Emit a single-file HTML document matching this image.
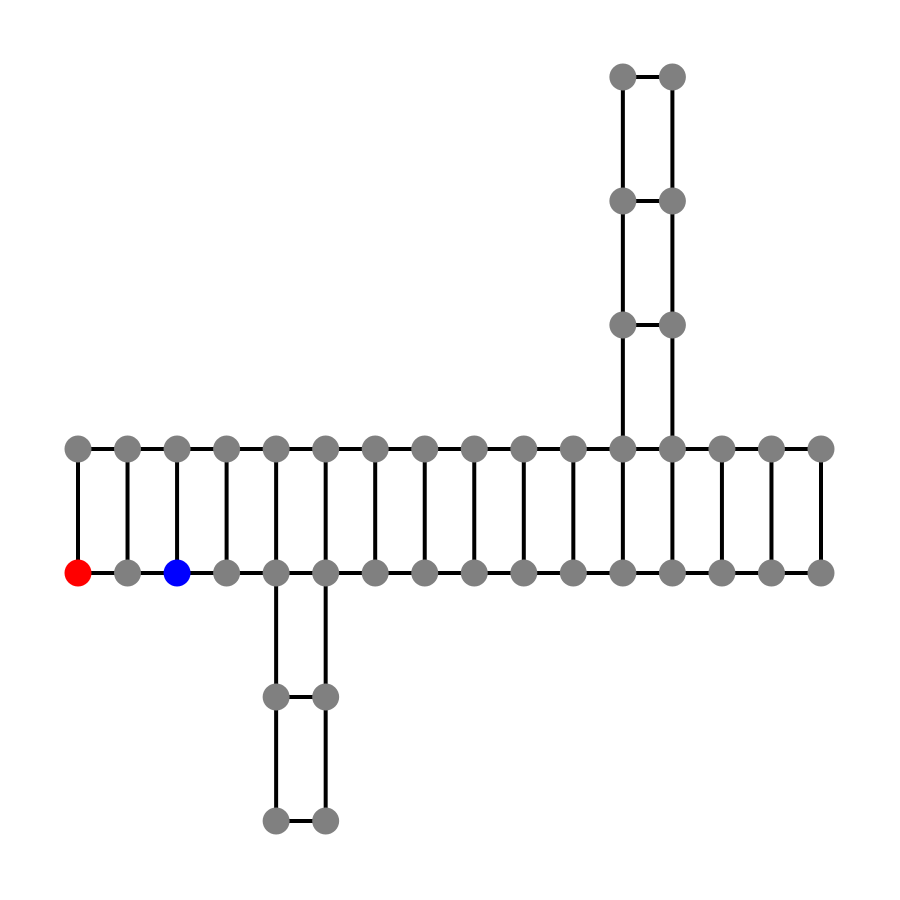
<!DOCTYPE html>
<html>
<head>
<meta charset="utf-8">
<style>
  html, body { margin:0; padding:0; background:#fff; }
  svg { display:block; }
</style>
</head>
<body>
<svg id="chart" width="900" height="900" viewBox="0 0 900 900">
  <g id="edges"></g>
  <g id="nodes"></g>
</svg>
<script>
// grid coordinates of nodes: column index and row index
const mainCols = [0,1,2,3,4,5,6,7,8,9,10,11,12,13,14,15];
const mainRows = [0,1];
const upperCols = [11,12];
const upperRows = [-1,-2,-3];
const lowerCols = [4,5];
const lowerRows = [2,3];
const redNode = [0,1];
const blueNode = [2,1];

const x0 = 78, dx = (821-78)/15;
const yRow0 = 449, dy = 124;
const xs = c => x0 + c*dx;
const ys = r => yRow0 + r*dy;

const nodes = [];
mainCols.forEach(c => mainRows.forEach(r => nodes.push([c,r])));
upperCols.forEach(c => upperRows.forEach(r => nodes.push([c,r])));
lowerCols.forEach(c => lowerRows.forEach(r => nodes.push([c,r])));

const NS = 'http://www.w3.org/2000/svg';
const eg = document.getElementById('edges');
const ng = document.getElementById('nodes');

for (let i=0;i<nodes.length;i++){
  for (let j=i+1;j<nodes.length;j++){
    const a=nodes[i], b=nodes[j];
    if (Math.abs(a[0]-b[0]) + Math.abs(a[1]-b[1]) === 1){
      const l=document.createElementNS(NS,'line');
      l.setAttribute('x1',xs(a[0])); l.setAttribute('y1',ys(a[1]));
      l.setAttribute('x2',xs(b[0])); l.setAttribute('y2',ys(b[1]));
      l.setAttribute('stroke','#000'); l.setAttribute('stroke-width','4');
      
      
      eg.appendChild(l);
    }
  }
}
nodes.forEach(n => {
  const c=document.createElementNS(NS,'circle');
  c.setAttribute('cx',xs(n[0])); c.setAttribute('cy',ys(n[1])); c.setAttribute('r','13.5');
  let fill='#808080';
  if (n[0]===redNode[0] && n[1]===redNode[1]) fill='#ff0000';
  if (n[0]===blueNode[0] && n[1]===blueNode[1]) fill='#0000ff';
  c.setAttribute('fill',fill);
  
  
  ng.appendChild(c);
});
</script>
</body>
</html>
